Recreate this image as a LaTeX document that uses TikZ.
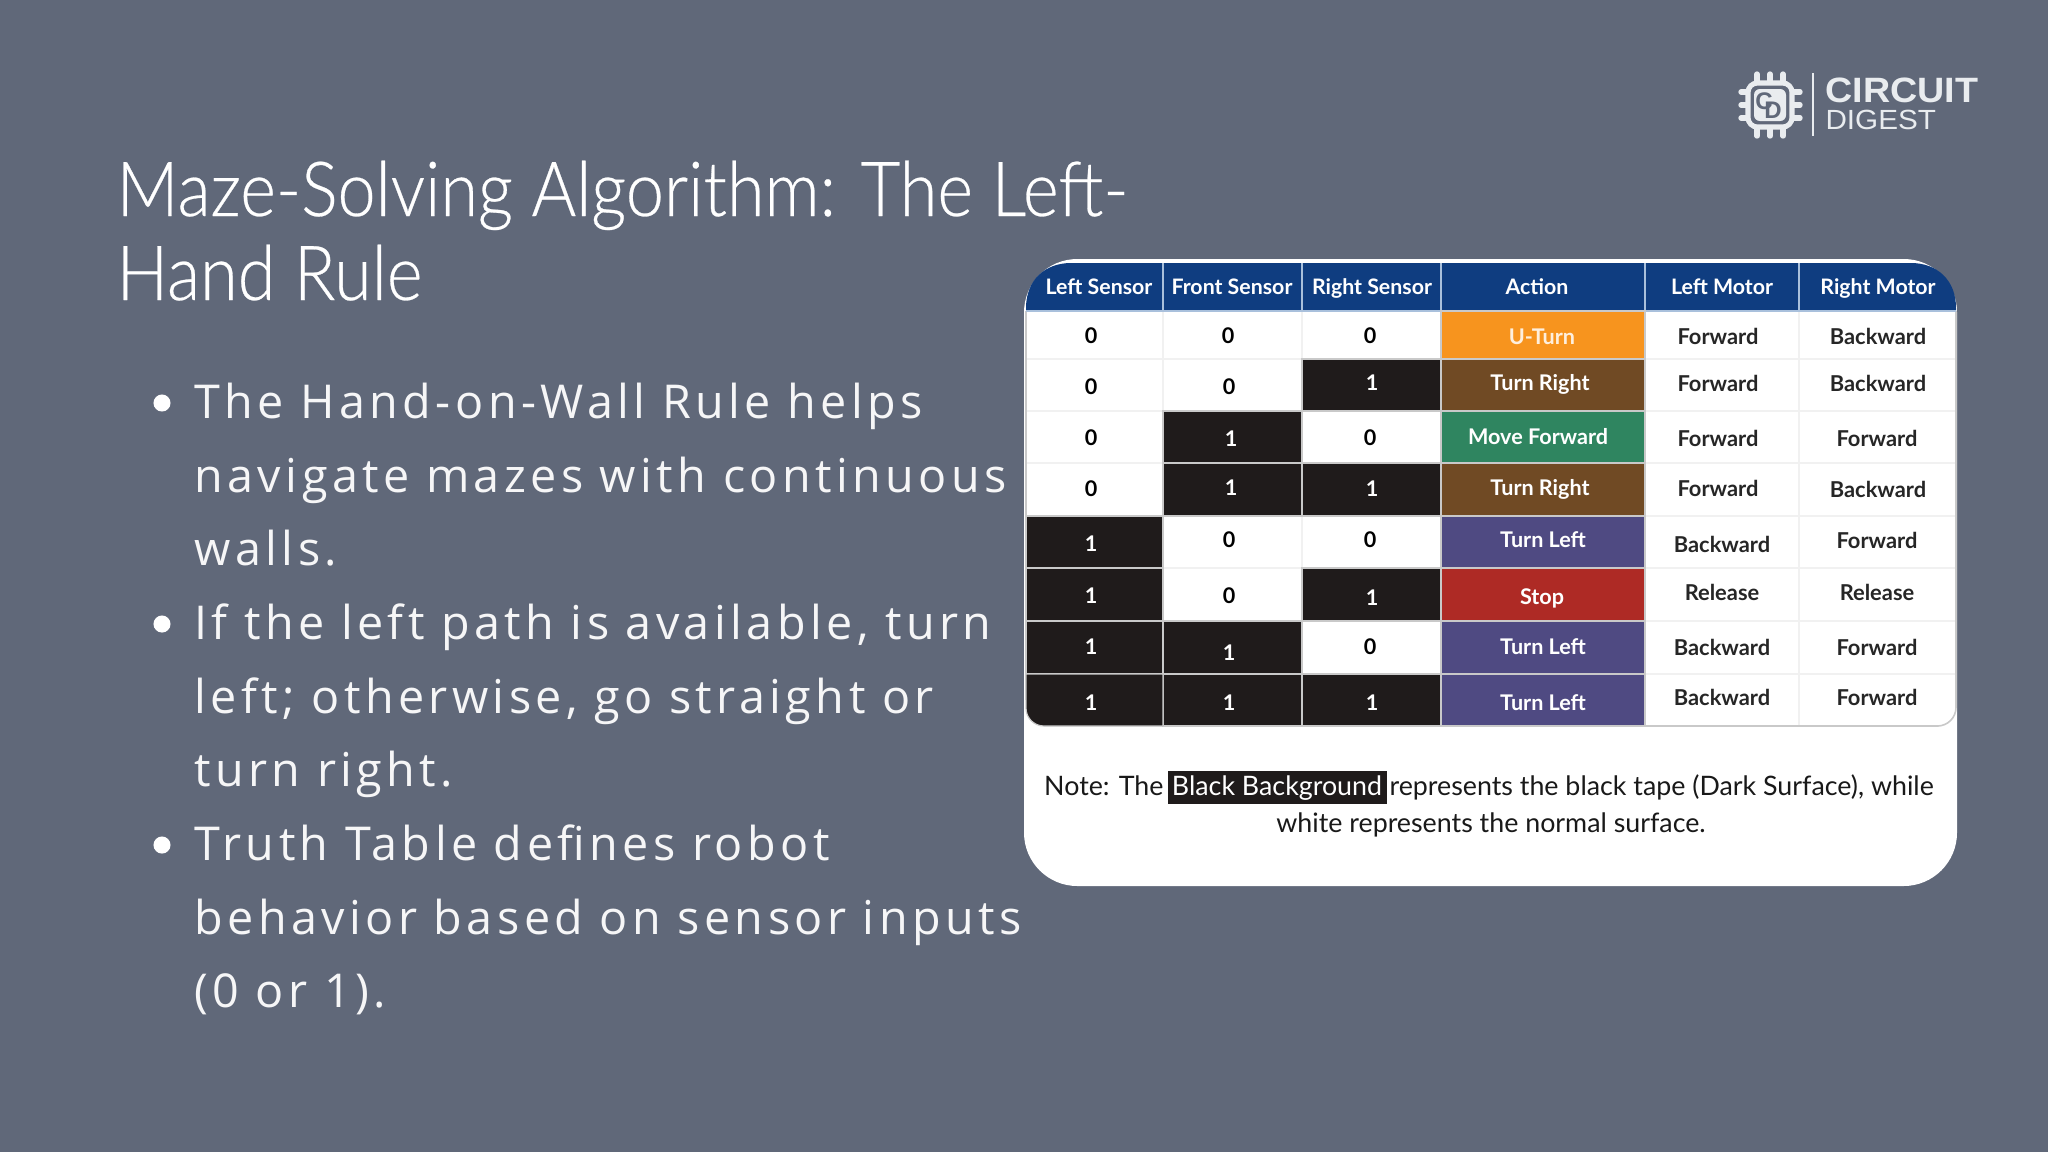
\documentclass[tikz,border=0pt]{standalone}
\usepackage{fontspec}
\setmainfont{Lato}
\newfontfamily\titlefont[FakeStretch=.9,FakeBold=.35]{Lato Light}
\newfontfamily\bodyfont[LetterSpace=9.5]{Open Sans}
\newfontfamily\logofont{Liberation Sans}
\newfontfamily\logowide[FakeStretch=1.07]{Liberation Sans}
\definecolor{bgslate}{HTML}{606879}
\definecolor{headblue}{HTML}{0F3D80}
\definecolor{headline}{HTML}{A9C0DC}
\definecolor{inkblack}{HTML}{1F1B1B}
\definecolor{cellgrid}{HTML}{C9C9C9}
\definecolor{faintgrid}{HTML}{F1F1F1}
\definecolor{actorange}{HTML}{F7941E}
\definecolor{actbrown}{HTML}{704A24}
\definecolor{actgreen}{HTML}{2F8560}
\definecolor{actpurple}{HTML}{4F4A82}
\definecolor{actred}{HTML}{AE2A25}
\definecolor{motorink}{HTML}{262626}
\definecolor{logowhite}{HTML}{E9ECEF}
\tikzset{
  cellbox/.style={draw=cellgrid,line width=1.2*.375pt},
  headtxt/.style={text=white,font=\bfseries\fontsize{8}{9}\selectfont,inner sep=0pt},
  zerotxt/.style={text=black,font=\bfseries\fontsize{8.1}{9}\selectfont,inner sep=0pt},
  onetxt/.style={text=white,font=\bfseries\fontsize{8.1}{9}\selectfont,inner sep=0pt},
  acttxt/.style={text=white,font=\bfseries\fontsize{8.1}{9}\selectfont,inner sep=0pt},
  motortxt/.style={text=motorink,font=\bfseries\fontsize{8.2}{9}\selectfont,inner sep=0pt},
  notetxt/.style={text=black!90,font=\fontsize{10.05}{11}\selectfont,inner sep=0pt},
  titletxt/.style={text=white,font=\titlefont\fontsize{28.5}{32}\selectfont,inner sep=0pt,anchor=base west},
  bodytxt/.style={text=white!94!bgslate,font=\bodyfont\fontsize{17.5}{20}\selectfont,inner sep=0pt,anchor=base west},
  bulletdot/.style={circle,fill=white,minimum size=6.4pt,inner sep=0pt},
  chippin/.style={draw=logowhite,line width=2pt,line cap=round}
}
\begin{document}
\begin{tikzpicture}[x=.375pt,y=-.375pt]
  \useasboundingbox (0,0) rectangle (2048,1152);
  \fill[bgslate] (0,0) rectangle (2048,1152);
  % title
  \node[titletxt] (title1) at (116,216) {Maze-Solving Algorithm: The Left-};
  \node[titletxt] (title2) at (116,300) {Hand Rule};
  % bullets
  \node[bulletdot] (dot1) at (162,403) {};
  \node[bulletdot] (dot2) at (162,624) {};
  \node[bulletdot] (dot3) at (162,845) {};
  \foreach \n/\y/\txt in {
    1/418/{The Hand-on-Wall Rule helps},
    2/492/{navigate mazes with continuous},
    3/565/{walls.},
    4/639/{If the left path is available, turn},
    5/713/{left; otherwise, go straight or},
    6/786/{turn right.},
    7/860/{Truth Table defines robot},
    8/934/{behavior based on sensor inputs},
    9/1007/{(0 or 1).}}
    \node[bodytxt] (body\n) at (194,\y) {\txt};
  % card
  \fill[white,rounded corners=20pt] (1024,259) rectangle (1957,886);
  % faint grid of the table
  \foreach \x in {1163,1302,1441,1645,1799}
    \draw[faintgrid,line width=.6pt] (\x,311) -- (\x,726);
  \foreach \y in {359,411,463,516,568,621,674}
    \draw[faintgrid,line width=.6pt] (1026,\y) -- (1956,\y);
  \draw[cellgrid,line width=.6pt] (1956,311) -- (1956,706) {[rounded corners=7pt] -- (1956,726) -- (1920,726)} -- (1645,726);
  \draw[cellgrid,line width=.6pt] (1026,311) -- (1026,700);
  % header
  \fill[headblue] (1026,311) -- (1026,308) .. controls (1026,280) and (1045,263) .. (1071,263) -- (1911,263) .. controls (1937,263) and (1956,280) .. (1956,308) -- (1956,311) -- cycle;
  \foreach \x in {1163,1302,1441,1645,1799}
    \draw[headline,line width=.5pt] (\x,263) -- (\x,311);
  \draw[headline,line width=.5pt] (1026,311) -- (1956,311);
  % dark sensor cells
  \foreach \xa/\ya/\xb/\yb in {
    1302/359/1441/411, 1163/411/1302/463, 1163/463/1302/516, 1302/463/1441/516,
    1026/516/1163/568, 1026/568/1163/621, 1302/568/1441/621, 1026/621/1163/674,
    1163/621/1302/674, 1163/674/1302/726, 1302/674/1441/726}
    \filldraw[cellbox,fill=inkblack] (\xa,\ya) rectangle (\xb,\yb);
  \filldraw[cellbox,fill=inkblack] (1026,674) -- (1163,674) -- (1163,726) -- (1044,726) .. controls (1034,726) and (1026,718) .. (1026,708) -- cycle;
  % action cells
  \foreach \ya/\yb/\col in {
    311/359/actorange, 359/411/actbrown, 411/463/actgreen, 463/516/actbrown,
    516/568/actpurple, 568/621/actred, 621/674/actpurple, 674/726/actpurple}
    \filldraw[cellbox,fill=\col] (1441,\ya) rectangle (1645,\yb);
  % table header texts
  \node[headtxt] (hleft) at (1099,287) {Left Sensor};
  \node[headtxt] (hfront) at (1232,287) {Front Sensor};
  \node[headtxt] (hright) at (1372,288) {Right Sensor};
  \node[headtxt] (haction) at (1537,287) {Action};
  \node[headtxt] (hlmotor) at (1722,287) {Left Motor};
  \node[headtxt] (hrmotor) at (1878,288) {Right Motor};
  % sensor values
  \foreach \n/\x/\y in {a/1091/336, b/1228/336, c/1370/336, d/1091/387, e/1229/387,
    f/1091/438, g/1370/438, h/1091/489, i/1229/540, j/1370/540, k/1229/596, l/1370/647}
    \node[zerotxt] (zero\n) at (\x,\y) {0};
  \foreach \n/\x/\y in {a/1372/383, b/1231/439, c/1231/488, d/1372/489, e/1091/544,
    f/1091/596, g/1372/598, h/1091/647, i/1229/653, j/1091/703, k/1229/703, l/1372/703}
    \node[onetxt] (one\n) at (\x,\y) {1};
  % actions
  \node[acttxt,text=white!85!actorange] (act0) at (1542,337) {U-Turn};
  \node[acttxt] (act1) at (1540,384) {Turn Right};
  \node[acttxt] (act2) at (1538,437) {Move Forward};
  \node[acttxt] (act3) at (1540,489) {Turn Right};
  \node[acttxt] (act4) at (1543,540) {Turn Left};
  \node[acttxt] (act5) at (1542,598) {Stop};
  \node[acttxt] (act6) at (1543,647) {Turn Left};
  \node[acttxt] (act7) at (1543,703) {Turn Left};
  % motors
  \foreach \n/\x/\y/\txt in {
    a/1718/336/Forward, b/1878/336/Backward, c/1718/383/Forward, d/1878/383/Backward,
    e/1718/438/Forward, f/1877/438/Forward, g/1718/488/Forward, h/1878/489/Backward,
    i/1722/544/Backward, j/1877/540/Forward, k/1722/592/Release, l/1877/592/Release,
    m/1722/647/Backward, n/1877/647/Forward, o/1722/697/Backward, p/1877/697/Forward}
    \node[motortxt] (motor\n) at (\x,\y) {\txt};
  % note below the table
  \fill[inkblack] (1168,771) rectangle (1387,804);
  \node[notetxt,text=white,anchor=base] (notemark) at (1277,795) {Black Background};
  \node[notetxt,anchor=base east] (notea) at (1164,795) {Note: The};
  \node[notetxt,anchor=base west] (noteb) at (1389,795) {represents the black tape (Dark Surface), while};
  \node[notetxt,anchor=base] (notec) at (1491,832) {white represents the normal surface.};
  % logo
  \foreach \d in {-13,0,13} {
    \draw[chippin] (1741,105+\d) -- (1749,105+\d);
    \draw[chippin] (1790,105+\d) -- (1800,105+\d);
    \draw[chippin] (1770+\d,74) -- (1770+\d,84);
    \draw[chippin] (1770+\d,126) -- (1770+\d,136);
  }
  \draw[logowhite,line width=1.9pt,rounded corners=3.5pt,fill=bgslate] (1748,83) rectangle (1792,127);
  \fill[logowhite,rounded corners=2.2pt] (1754,89) rectangle (1786,121);
  \node[text=bgslate,font=\logofont\bfseries\fontsize{9}{9}\selectfont,inner sep=0pt] (logoc) at (1764,101) {C};
  \node[text=bgslate,font=\logofont\bfseries\fontsize{9}{9}\selectfont,inner sep=0pt] (logod) at (1773,110) {D};
  \draw[logowhite,line width=.4pt] (1813,73) -- (1813,136);
  \node[text=logowhite,font=\logowide\bfseries\fontsize{13.2}{14}\selectfont,inner sep=0pt,anchor=base west] (logo1) at (1825,102) {CIRCUIT};
  \node[text=logowhite,font=\logowide\fontsize{10.4}{12}\selectfont,inner sep=0pt,anchor=base west] (logo2) at (1825,129) {DIGEST};
\end{tikzpicture}
\end{document}
